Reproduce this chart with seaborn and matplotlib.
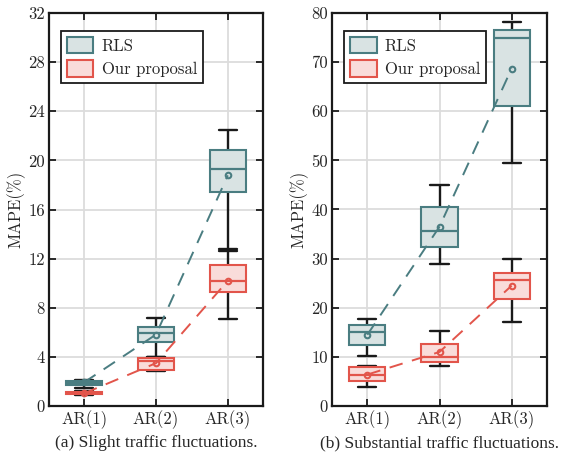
import numpy as np
import pandas as pd
import matplotlib
matplotlib.use("Agg")
import matplotlib.pyplot as plt
import seaborn as sns
from matplotlib.patches import Patch

categories = ["AR(1)", "AR(2)", "AR(3)"]
methods = ["RLS", "Our proposal"]

# Panel (a): slight traffic fluctuations  [low whisker, q1, median, q3, high whisker]
a_rls_low = [1.50, 4.02, 12.76]
a_rls_q1 = [1.72, 5.22, 17.39]
a_rls_med = [1.90, 5.93, 19.29]
a_rls_q3 = [2.05, 6.42, 20.84]
a_rls_high = [2.12, 7.18, 22.45]
a_rls_mean = [1.93, 5.82, 18.78]

a_our_low = [0.88, 2.83, 7.07]
a_our_q1 = [0.95, 2.94, 9.25]
a_our_med = [1.05, 3.70, 10.15]
a_our_q3 = [1.17, 3.94, 11.48]
a_our_high = [1.25, 4.02, 12.62]
a_our_mean = [1.03, 3.49, 10.20]

# Panel (b): substantial traffic fluctuations
b_rls_low = [10.2, 29.0, 49.5]
b_rls_q1 = [12.5, 32.4, 61.0]
b_rls_med = [14.97, 35.6, 74.9]
b_rls_q3 = [16.5, 40.6, 76.6]
b_rls_high = [17.76, 44.96, 78.2]
b_rls_mean = [14.5, 36.5, 68.7]

b_our_low = [3.94, 8.2, 17.2]
b_our_q1 = [5.17, 9.05, 21.8]
b_our_med = [6.4, 10.07, 25.7]
b_our_q3 = [7.96, 12.6, 27.0]
b_our_high = [8.2, 15.3, 29.9]
b_our_mean = [6.4, 11.0, 24.5]

captions = ["(a) Slight traffic fluctuations.", "(b) Substantial traffic fluctuations."]
yticks_a = [0, 4, 8, 12, 16, 20, 24, 28, 32]
yticks_b = [0, 10, 20, 30, 40, 50, 60, 70, 80]

face = {"RLS": "#d9e3e3", "Our proposal": "#f9dcda"}
edge = {"RLS": "#4a7d81", "Our proposal": "#e2554b"}


def long_frame(stats):
    rows = []
    for method, cols in stats.items():
        for i, cat in enumerate(categories):
            for arr in cols:
                rows.append({"cat": cat, "method": method, "val": arr[i]})
    return pd.DataFrame(rows)


panels = [
    (long_frame({"RLS": [a_rls_low, a_rls_q1, a_rls_med, a_rls_q3, a_rls_high],
                 "Our proposal": [a_our_low, a_our_q1, a_our_med, a_our_q3, a_our_high]}),
     {"RLS": a_rls_mean, "Our proposal": a_our_mean}, yticks_a),
    (long_frame({"RLS": [b_rls_low, b_rls_q1, b_rls_med, b_rls_q3, b_rls_high],
                 "Our proposal": [b_our_low, b_our_q1, b_our_med, b_our_q3, b_our_high]}),
     {"RLS": b_rls_mean, "Our proposal": b_our_mean}, yticks_b),
]

sns.set_theme(style="white")
plt.rcParams["font.family"] = ["cmr10", "DejaVu Serif"]
plt.rcParams["axes.formatter.use_mathtext"] = True
plt.rcParams["mathtext.fontset"] = "cm"

fig = plt.figure(figsize=(5.61, 4.58), dpi=100)
axes_pos = [[49 / 561, 52 / 458, 214 / 561, 393 / 458],
            [332 / 561, 52 / 458, 215 / 561, 393 / 458]]

for k, (df, means, yt) in enumerate(panels):
    ax = fig.add_axes(axes_pos[k])
    ax.set_axisbelow(True)
    for m in methods:
        sub = df[df["method"] == m]
        sns.boxplot(data=sub, x="cat", y="val", order=categories, ax=ax,
                    color=face[m], saturation=1, width=0.5, whis=(0, 100),
                    linewidth=1.5, fliersize=0,
                    boxprops=dict(facecolor=face[m], edgecolor=edge[m], zorder=2),
                    medianprops=dict(color=edge[m], linewidth=1.6, zorder=3),
                    whiskerprops=dict(color="#1a1a1a", linewidth=1.7, zorder=1.5),
                    capprops=dict(color="#1a1a1a", linewidth=1.7, zorder=1.5))
    for m in methods:
        n0 = len(ax.lines)
        mdf = pd.DataFrame({"cat": categories, "mean": means[m]})
        sns.pointplot(data=mdf, x="cat", y="mean", order=categories, ax=ax,
                      color=edge[m], markers="o", linestyles="--",
                      markersize=4, linewidth=1.4, errorbar=None)
        for ln in ax.lines[n0:]:
            ln.set_dashes([7, 5])
            ln.set_markerfacecolor("none")
            ln.set_markeredgewidth(1.5)
            ln.set_zorder(4)
    ax.set_xlim(-0.49, 2.49)
    ax.set_ylim(yt[0], yt[-1])
    ax.set_yticks(yt)
    ax.set_yticklabels([str(v) for v in yt])
    ax.set_xlabel("")
    ax.set_ylabel("MAPE(%)", fontsize=12, labelpad=2)
    ax.grid(True, color="#dcdcdc", linewidth=1.3)
    for s in ax.spines.values():
        s.set_color("#1a1a1a")
        s.set_linewidth(1.6)
        s.set_visible(True)
    ax.tick_params(direction="in", length=5, width=1.3, color="#1a1a1a",
                   top=True, right=True, bottom=True, left=True,
                   labelsize=12, pad=3)
    ax.set_xticks(range(len(categories)))
    ax.set_xticklabels(categories)
    handles = [Patch(facecolor=face[m], edgecolor=edge[m], linewidth=1.5, label=m)
               for m in methods]
    leg = ax.legend(handles=handles, loc="upper left", fontsize=12,
                    fancybox=False, edgecolor="#1a1a1a", framealpha=1,
                    borderpad=0.35, handlelength=1.6, handleheight=1.15,
                    handletextpad=0.5, labelspacing=0.4, borderaxespad=0,
                    bbox_to_anchor=(0.056, 0.954))
    leg.get_frame().set_linewidth(1.3)
    ax.text(0.5, -0.074, captions[k], transform=ax.transAxes, ha="center", va="top",
            fontsize=12.5, family=["Liberation Serif"])

fig.savefig("out.png", dpi=100)
